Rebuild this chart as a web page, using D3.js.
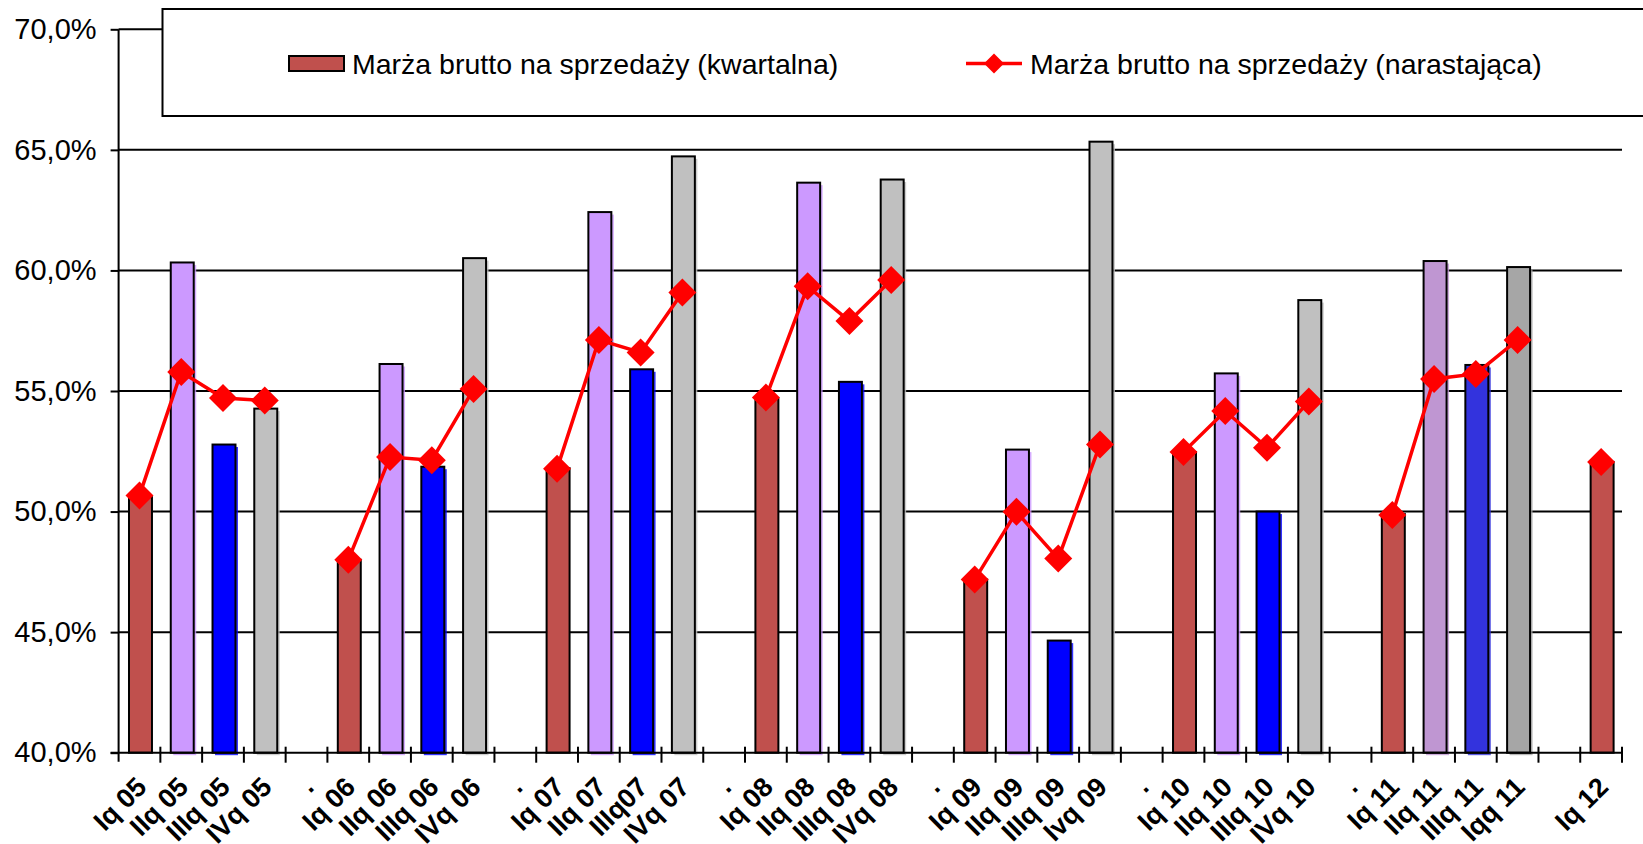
<!DOCTYPE html>
<html>
<head>
<meta charset="utf-8">
<script src="https://cdn.jsdelivr.net/npm/d3@7"></script>
<style>
  html, body { margin: 0; padding: 0; background: #fff; }
  svg { display: block; }
  text { font-family: Arial, "Liberation Sans", sans-serif; }
</style>
</head>
<body>
<script>
// ---- data ----
const categories = ["Iq 05","IIq 05","IIIq 05","IVq 05",".","Iq 06","IIq 06","IIIq 06","IVq 06",".",
  "Iq 07","IIq 07","IIIq07","IVq 07",".","Iq 08","IIq 08","IIIq 08","IVq 08",".",
  "Iq 09","IIq 09","IIIq 09","Ivq 09",".","Iq 10","IIq 10","IIIq 10","IVq 10",".",
  "Iq 11","IIq 11","IIIq 11","Iqq 11","","Iq 12"];
const quarterly = [50.6,60.33,52.78,54.27,null,48.0,56.12,51.86,60.51,null,
  51.8,62.42,55.9,64.73,null,54.7,63.64,55.38,63.77,null,
  47.18,52.57,44.65,65.34,null,52.47,55.73,50.0,58.77,null,
  49.9,60.39,56.08,60.14,null,52.06];
const cumulative = [50.67,55.79,54.71,54.61,null,48.0,52.26,52.13,55.08,null,
  51.78,57.12,56.6,59.08,null,54.73,59.34,57.9,59.6,null,
  47.18,49.99,48.05,52.78,null,52.47,54.17,52.65,54.56,null,
  49.86,55.5,55.71,57.12,null,52.06];
const yTicks = [40,45,50,55,60,65,70];
const seriesNames = ["Marża brutto na sprzedaży (kwartalna)", "Marża brutto na sprzedaży (narastająca)"];

// ---- styles ----
const palette = ["#C0504D","#CC99FF","#0000FF","#C0C0C0"];
const palette2011 = ["#C0504D","#BF96D2","#3333DD","#A6A6A6"];

const W = 1643, H = 844;
const svg = d3.select("body").append("svg").attr("width", W).attr("height", H);

const x0 = 118.6, x1 = 1622, yTop = 29.3, yBot = 752.7;
const idx = categories.map((d,i)=>i);
const x = d3.scaleBand().domain(idx).range([x0, x1]).paddingInner(0).paddingOuter(0);
const y = d3.scaleLinear().domain([40,70]).range([yBot, yTop]);

// gridlines
svg.append("g").selectAll("line").data(yTicks.filter(t=>t>40)).join("line")
  .attr("x1", x0).attr("x2", x1)
  .attr("y1", d=>y(d)).attr("y2", d=>y(d))
  .attr("stroke", "#000").attr("stroke-width", 2);

// y axis
const yAxis = d3.axisLeft(y).tickValues(yTicks).tickSize(8).tickPadding(14)
  .tickFormat(d => d3.format(".1f")(d).replace(".", ",") + "%");
const gy = svg.append("g").attr("transform", `translate(${x0},0)`).call(yAxis);
gy.select(".domain").remove();
gy.selectAll(".tick line").attr("stroke", "#000").attr("stroke-width", 2);
gy.selectAll(".tick text").attr("font-size", 29).attr("fill", "#000")
  .attr("font-family", "Arial, 'Liberation Sans', sans-serif");
svg.append("line").attr("x1", x0).attr("x2", x0).attr("y1", yTop).attr("y2", yBot + 9)
  .attr("stroke", "#000").attr("stroke-width", 2);

// bars
function barQ(i) {
  const label = categories[i];
  return label.startsWith("IV") || label.startsWith("Iv") || label.startsWith("Iqq") ? 3
        : label.startsWith("III") ? 2 : label.startsWith("II") ? 1 : 0;
}
function barColor(i) {
  return (categories[i].endsWith("11") ? palette2011 : palette)[barQ(i)];
}
const bw = x.bandwidth() * 0.55;
const barData = idx.filter(i => quarterly[i] != null);
const gb = svg.append("g");
// shadows
gb.selectAll("rect.sh").data(barData.filter(i => barQ(i) > 0)).join("rect")
  .attr("class","sh")
  .attr("x", i => x(i) + (x.bandwidth()-bw)/2 + 1 + 2.5)
  .attr("y", i => y(quarterly[i]) + 2.5)
  .attr("width", bw).attr("height", i => yBot - y(quarterly[i]))
  .attr("fill", i => barColor(i)).attr("opacity", 0.8);
gb.selectAll("rect.bar").data(barData).join("rect")
  .attr("class","bar")
  .attr("x", i => x(i) + (x.bandwidth()-bw)/2 + 1)
  .attr("y", i => y(quarterly[i]))
  .attr("width", bw).attr("height", i => yBot - y(quarterly[i]))
  .attr("fill", i => barColor(i))
  .attr("stroke", "#000").attr("stroke-width", 2);

// x axis
svg.append("line").attr("x1", x0 - 8).attr("x2", x1).attr("y1", yBot).attr("y2", yBot)
  .attr("stroke", "#000").attr("stroke-width", 2);
const bounds = idx.slice(1).map(i => x(i)).concat([x1]);
svg.append("g").selectAll("line").data(bounds).join("line")
  .attr("x1", d=>d).attr("x2", d=>d).attr("y1", yBot - 6).attr("y2", yBot + 10)
  .attr("stroke", "#000").attr("stroke-width", 2);
svg.append("g").selectAll("text").data(idx).join("text")
  .attr("transform", i => `translate(${x(i) + x.bandwidth()/2 + 2},${782}) rotate(-45)`)
  .attr("text-anchor", "end")
  .attr("dy", "0.35em")
  .attr("font-size", 27).attr("font-weight", "bold").attr("fill", "#000")
  .text(i => categories[i]);

// line series
const line = d3.line()
  .defined(i => cumulative[i] != null)
  .x(i => x(i) + x.bandwidth()/2)
  .y(i => y(cumulative[i]));
svg.append("path").datum(idx).attr("d", line)
  .attr("fill", "none").attr("stroke", "#FF0000").attr("stroke-width", 3.5);
const dm = 14;
svg.append("g").selectAll("path").data(idx.filter(i => cumulative[i] != null)).join("path")
  .attr("transform", i => `translate(${x(i) + x.bandwidth()/2},${y(cumulative[i])})`)
  .attr("d", `M0,${-dm}L${dm},0L0,${dm}L${-dm},0Z`)
  .attr("fill", "#FF0000");

// legend
const lg = svg.append("g");
lg.append("rect").attr("x", 162.5).attr("y", 9).attr("width", 1600).attr("height", 107)
  .attr("fill", "#fff").attr("stroke", "#000").attr("stroke-width", 2);
lg.append("rect").attr("x", 289).attr("y", 56).attr("width", 55).attr("height", 15)
  .attr("fill", palette[0]).attr("stroke", "#000").attr("stroke-width", 2);
lg.append("text").attr("x", 352).attr("y", 64).attr("dy", "0.35em")
  .attr("font-size", 28.5).attr("fill", "#000").text(seriesNames[0]);
lg.append("line").attr("x1", 966).attr("x2", 1022).attr("y1", 63.5).attr("y2", 63.5)
  .attr("stroke", "#FF0000").attr("stroke-width", 3.5);
const ld = 10;
lg.append("path").attr("transform", "translate(994,63.5)")
  .attr("d", `M0,${-ld}L${ld},0L0,${ld}L${-ld},0Z`).attr("fill", "#FF0000");
lg.append("text").attr("x", 1030).attr("y", 64).attr("dy", "0.35em")
  .attr("font-size", 28.5).attr("fill", "#000").text(seriesNames[1]);
</script>
</body>
</html>
